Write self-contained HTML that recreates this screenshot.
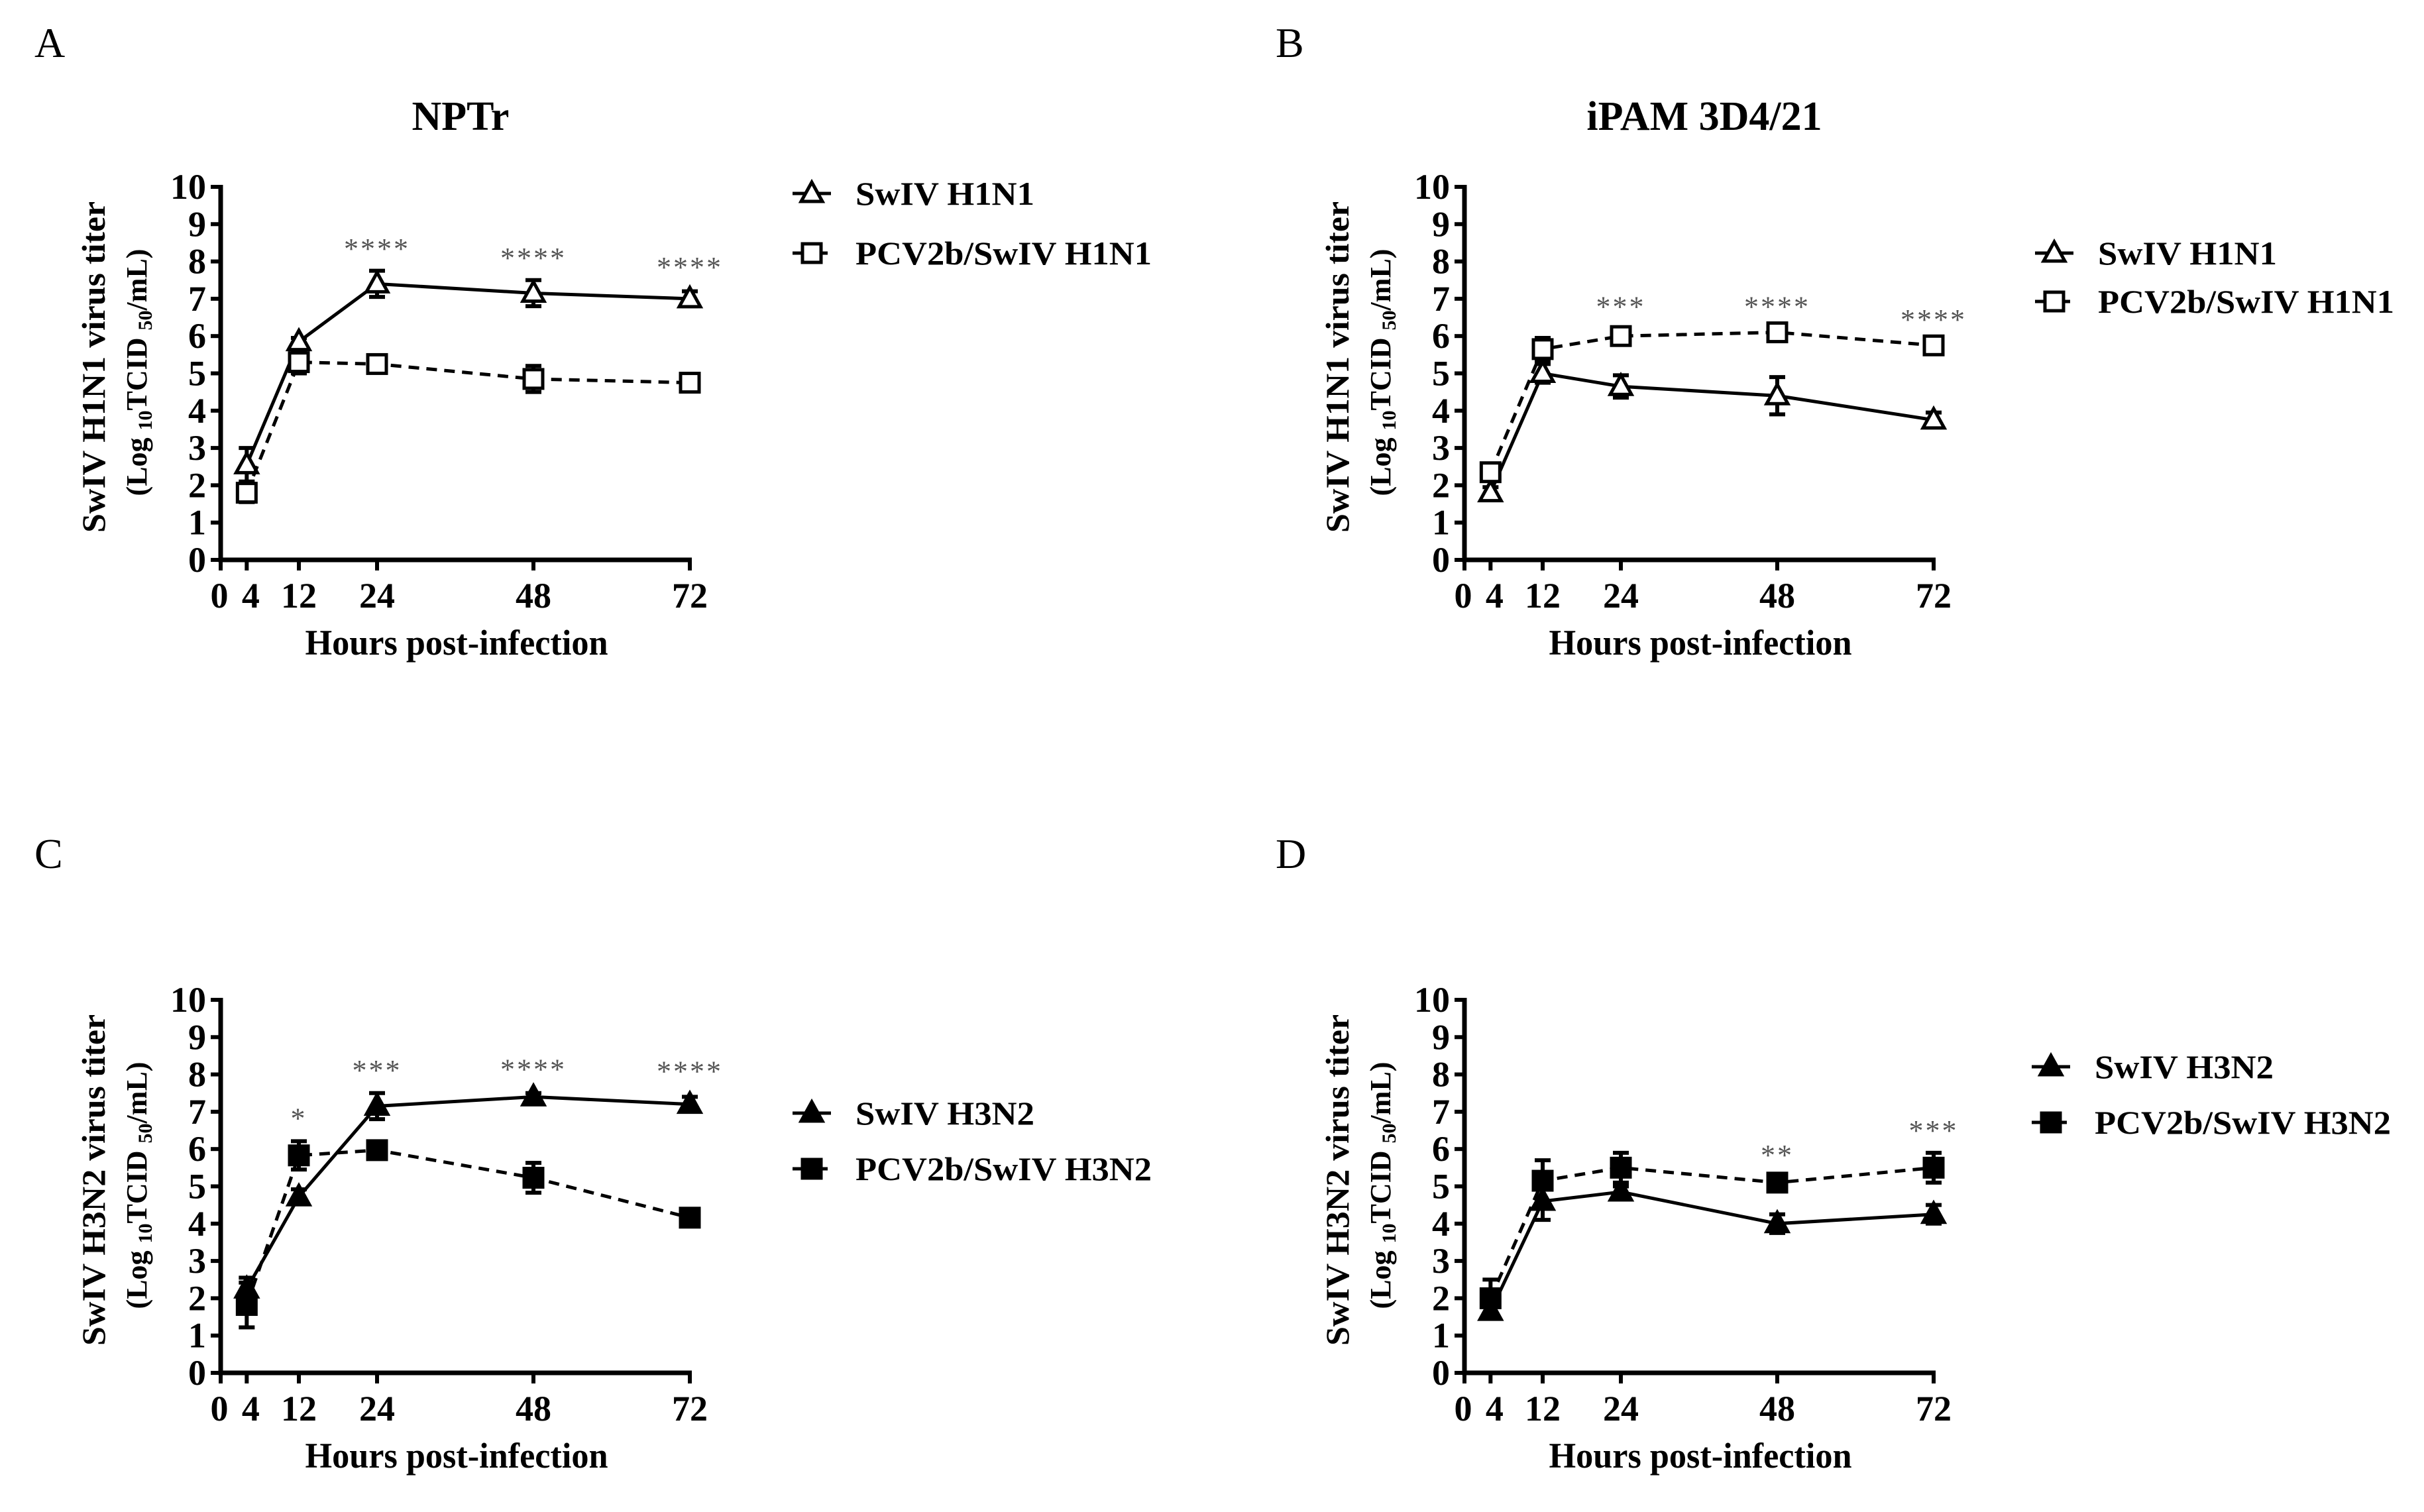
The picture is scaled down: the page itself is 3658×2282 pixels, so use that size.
<!DOCTYPE html>
<html><head><meta charset="utf-8"><style>
html,body{margin:0;padding:0;background:#fff;}
svg{display:block;font-family:"Liberation Serif",serif;}
</style></head><body>
<svg id="fig" width="3658" height="2282" viewBox="0 0 3658 2282" xmlns="http://www.w3.org/2000/svg"></svg>
<script>
const hours = [4, 12, 24, 48, 72];
const aSwiv = [2.55, 5.85, 7.4, 7.15, 7.0];
const aSwivErr = [0.45, 0.1, 0.35, 0.35, 0.2];
const aPcv = [1.8, 5.3, 5.25, 4.85, 4.75];
const aPcvErr = [0.25, 0.3, 0.15, 0.35, 0.15];
const aStars = ["", "", "****", "****", "****"];
const aStarY = [0, 0, 8.4, 8.15, 7.9];
const bSwiv = [1.8, 5.0, 4.65, 4.4, 3.75];
const bSwivErr = [0.15, 0.25, 0.3, 0.5, 0.2];
const bPcv = [2.35, 5.65, 6.0, 6.1, 5.75];
const bPcvErr = [0.2, 0.3, 0.15, 0.2, 0.15];
const bStars = ["", "", "***", "****", "****"];
const bStarY = [0, 0, 6.85, 6.85, 6.5];
const cSwiv = [2.25, 4.72, 7.15, 7.4, 7.2];
const cSwivErr = [0.3, 0.2, 0.35, 0.1, 0.2];
const cPcv = [1.82, 5.83, 5.97, 5.23, 4.16];
const cPcvErr = [0.6, 0.38, 0.1, 0.4, 0.22];
const cStars = ["", "*", "***", "****", "****"];
const cStarY = [0, 6.88, 8.17, 8.2, 8.14];
const dSwiv = [1.65, 4.6, 4.85, 4.0, 4.25];
const dSwivErr = [0.2, 0.5, 0.15, 0.25, 0.25];
const dPcv = [2.0, 5.15, 5.5, 5.1, 5.5];
const dPcvErr = [0.5, 0.55, 0.4, 0.1, 0.4];
const dStars = ["", "", "", "**", "***"];
const dStarY = [0, 0, 0, 5.9, 6.55];
const yTicks = [0,1,2,3,4,5,6,7,8,9,10];
const xTicks = [0,4,12,24,48,72];

const NS = "http://www.w3.org/2000/svg";
const svg = document.getElementById("fig");
function mk(tag, attrs, parent, text){
  const e = document.createElementNS(NS, tag);
  for (const k in attrs) e.setAttribute(k, attrs[k]);
  if (text !== undefined) e.textContent = text;
  (parent||svg).appendChild(e);
  return e;
}

function panel(cfg){
  const g = mk("g", {});
  
  
  const x0 = cfg.x0, yb = cfg.yb, yt = cfg.yt;
  const X = h => x0 + h * (708/72);
  const Y = v => yb - v * (yb - yt) / 10;

  const lab = mk("text", {x: cfg.lx, y: cfg.ly, "font-size": 64}, g, cfg.id);
  
  
  if (cfg.title){
    const t = mk("text", {x: x0 + 362, y: yt - 86, "font-size": 62, "font-weight": "bold", "text-anchor": "middle"}, g, cfg.title);
    
    
  }
  const ax = mk("path", {d: `M${x0} ${yt-3} V${yb} H${X(72)+3}`, stroke: "#000", "stroke-width": 7, fill: "none"}, g);
  
  
  yTicks.forEach(v => {
    mk("line", {x1: x0-15, x2: x0, y1: Y(v), y2: Y(v), stroke: "#000", "stroke-width": 6}, g);
    const t = mk("text", {x: x0-22, y: Y(v)+18, "font-size": 54, "font-weight": "bold", "text-anchor": "end"}, g, String(v));
    
    
  });
  xTicks.forEach(h => {
    mk("line", {x1: X(h), x2: X(h), y1: yb, y2: yb+16, stroke: "#000", "stroke-width": 6}, g);
    const t = mk("text", {x: X(h)+(h===0?-2:h===4?6:0), y: yb+72, "font-size": 54, "font-weight": "bold", "text-anchor": "middle"}, g, String(h));
    
    
  });
  const xt = mk("text", {x: x0+356, y: yb+143, "font-size": 54, "font-weight": "bold", "text-anchor": "middle", textLength: 457, lengthAdjust: "spacingAndGlyphs"}, g, "Hours post-infection");
  
  
  const cy = yt + 272;
  const yt1 = mk("text", {x: 0, y: 0, "font-size": 50, "font-weight": "bold", "text-anchor": "middle", textLength: 500, lengthAdjust: "spacingAndGlyphs", transform: `translate(${x0-175},${cy}) rotate(-90)`}, g, cfg.ytitle);
  
  
  const yt2 = mk("text", {x: 0, y: 0, "font-size": 44, "font-weight": "bold", "text-anchor": "middle", transform: `translate(${x0-112},${cy+8}) rotate(-90)`}, g);
  
  
  mk("tspan", {}, yt2, "(Log ");
  mk("tspan", {"font-size": 30, dy: 8}, yt2, "10");
  mk("tspan", {dy: -8}, yt2, "TCID ");
  mk("tspan", {"font-size": 30, dy: 8}, yt2, "50");
  mk("tspan", {dy: -8}, yt2, "/mL)");

  function marker(parent, type, cx, cy2, filled){
    if (type === "tri"){
      mk("path", {d: `M${cx} ${cy2-17} L${cx+16} ${cy2+12} L${cx-16} ${cy2+12} Z`, fill: filled?"#000":"#fff", stroke: "#000", "stroke-width": 5}, parent);
    } else {
      mk("rect", {x: cx-14, y: cy2-14, width: 28, height: 28, fill: filled?"#000":"#fff", stroke: "#000", "stroke-width": 5}, parent);
    }
  }
  function series(name, vals, errs, type, dashed){
    const sg = mk("g", {}, g);
    
    
    const pts = hours.map((h,i)=>`${X(h)},${Y(vals[i])}`).join(" ");
    mk("polyline", {points: pts, fill: "none", stroke: "#000", "stroke-width": 5, "stroke-dasharray": dashed ? "16 11" : "none"}, sg);
    hours.forEach((h,i)=>{
      const x = X(h), y1 = Y(vals[i]+errs[i]), y2 = Y(vals[i]-errs[i]);
      mk("path", {d: `M${x} ${y1} V${y2} M${x-12} ${y1} H${x+12} M${x-12} ${y2} H${x+12}`, stroke: "#000", "stroke-width": 6, fill: "none"}, sg);
      marker(sg, type, x, Y(vals[i]), cfg.filled);
    });
  }
  series("series-swiv", cfg.swiv, cfg.swivErr, "tri", false);
  series("series-pcv2b-swiv", cfg.pcv, cfg.pcvErr, "sq", true);
  hours.forEach((h,i)=>{
    if (!cfg.stars[i]) return;
    const s = mk("text", {x: X(h), y: Y(cfg.starY[i])+18, "font-size": 44, fill: "#555", "text-anchor": "middle", "letter-spacing": 3}, g, cfg.stars[i]);
    
    
  });
  const lg = mk("g", {}, g);
  
  
  [[cfg.leg1, false, "tri", cfg.ly1],[cfg.leg2, true, "sq", cfg.ly2]].forEach(([txt, dashed, type, ly])=>{
    const e = mk("g", {}, lg);
    
    
    const mx = cfg.mx;
    if (dashed){
      mk("line", {x1: mx-29, x2: mx-16, y1: ly, y2: ly, stroke: "#000", "stroke-width": 5}, e);
      mk("line", {x1: mx+16, x2: mx+24, y1: ly, y2: ly, stroke: "#000", "stroke-width": 5}, e);
    } else {
      mk("line", {x1: mx-29, x2: mx+29, y1: ly, y2: ly, stroke: "#000", "stroke-width": 5}, e);
    }
    marker(e, type, mx, ly, cfg.filled);
    mk("text", {x: mx+66, y: ly+17, "font-size": 50, "font-weight": "bold", textLength: txt.length>12?447:270, lengthAdjust: "spacingAndGlyphs"}, e, txt);
  });
}

panel({id:"A", x0:333, yb:845, yt:282, lx:52, ly:86, title:"NPTr", ytitle:"SwIV H1N1 virus titer",
  swiv:aSwiv, swivErr:aSwivErr, pcv:aPcv, pcvErr:aPcvErr, stars:aStars, starY:aStarY, filled:false,
  leg1:"SwIV H1N1", leg2:"PCV2b/SwIV H1N1", mx:1225, ly1:292, ly2:382});
panel({id:"B", x0:2210, yb:845, yt:282, lx:1925, ly:86, title:"iPAM 3D4/21", ytitle:"SwIV H1N1 virus titer",
  swiv:bSwiv, swivErr:bSwivErr, pcv:bPcv, pcvErr:bPcvErr, stars:bStars, starY:bStarY, filled:false,
  leg1:"SwIV H1N1", leg2:"PCV2b/SwIV H1N1", mx:3100, ly1:382, ly2:455});
panel({id:"C", x0:333, yb:2072, yt:1509, lx:52, ly:1310, title:null, ytitle:"SwIV H3N2 virus titer",
  swiv:cSwiv, swivErr:cSwivErr, pcv:cPcv, pcvErr:cPcvErr, stars:cStars, starY:cStarY, filled:true,
  leg1:"SwIV H3N2", leg2:"PCV2b/SwIV H3N2", mx:1225, ly1:1680, ly2:1764});
panel({id:"D", x0:2210, yb:2072, yt:1509, lx:1925, ly:1310, title:null, ytitle:"SwIV H3N2 virus titer",
  swiv:dSwiv, swivErr:dSwivErr, pcv:dPcv, pcvErr:dPcvErr, stars:dStars, starY:dStarY, filled:true,
  leg1:"SwIV H3N2", leg2:"PCV2b/SwIV H3N2", mx:3095, ly1:1610, ly2:1694});
</script>
</body></html>
